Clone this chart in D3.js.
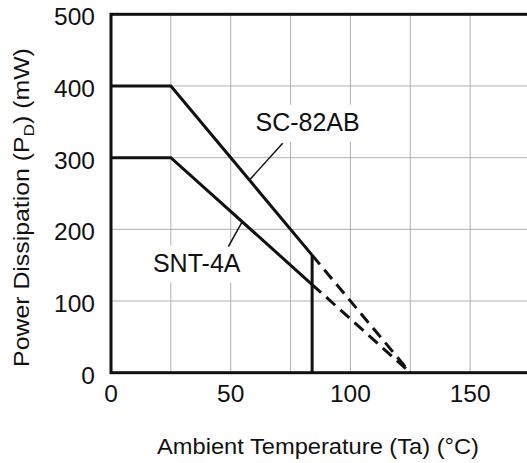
<!DOCTYPE html>
<html><head><meta charset="utf-8">
<script src="https://cdn.jsdelivr.net/npm/d3@7"></script>
<style>body{margin:0;background:#fff}svg{display:block}</style>
</head><body>
<svg id="c" width="527" height="463"></svg>
<script>
const xTicks = [0, 50, 100, 150];
const yTicks = [0, 100, 200, 300, 400, 500];
const xGrid = [25, 50, 75, 100, 125, 150, 175];
const yGrid = [100, 200, 300, 400];
const sc82Solid = [[0, 400], [25, 400], [84, 164]];
const sc82Dash = [[84, 164], [125, 0]];
const snt4Solid = [[0, 300], [25, 300], [84, 123]];
const snt4Dash = [[84, 123], [125, 0]];
const cutoff = [[84, 0], [84, 164]];
const labels = [
  {text: "SC-82AB", at: [82.1, 337.6], lead: [[71.7, 320], [58.1, 269.8]]},
  {text: "SNT-4A", at: [35.8, 140.9], lead: [[49, 175.8], [54.6, 209.3]]}
];

const svg = d3.select("#c");
const x = d3.scaleLinear().domain([0, 175]).range([111, 530]);
const y = d3.scaleLinear().domain([0, 500]).range([372.7, 14.3]);
const font = "Liberation Sans, Arial, sans-serif";

// grid
svg.append("g").selectAll("line").data(xGrid).join("line")
  .attr("x1", d => x(d)).attr("x2", d => x(d)).attr("y1", y(0)).attr("y2", y(500))
  .attr("stroke", "#b0b0b0").attr("stroke-width", 1);
svg.append("g").selectAll("line").data(yGrid).join("line")
  .attr("x1", x(0)).attr("x2", x(175)).attr("y1", d => y(d)).attr("y2", d => y(d))
  .attr("stroke", "#b0b0b0").attr("stroke-width", 1);

const lblG = svg.append("g");
const line = d3.line().x(d => x(d[0])).y(d => y(d[1]));

// border
svg.append("rect").attr("x", x(0)).attr("y", y(500)).attr("width", x(175) - x(0)).attr("height", y(0) - y(500))
  .attr("fill", "none").attr("stroke", "#111").attr("stroke-width", 3);

// curves
const curves = svg.append("g").attr("fill", "none").attr("stroke", "#111").attr("stroke-width", 3);
[sc82Solid, snt4Solid, cutoff].forEach(d => curves.append("path").attr("d", line(d)));
[sc82Dash, snt4Dash].forEach(d => curves.append("path").attr("d", line(d)).attr("stroke-dasharray", "12,7"));

// labels
labels.forEach(l => {
  const fs = 25;
  const t = lblG.append("text").attr("x", x(l.at[0])).attr("y", y(l.at[1]))
    .attr("text-anchor", "middle").attr("font-family", font).attr("font-size", fs).attr("fill", "#111").text(l.text);
  const bb = t.node().getBBox();
  const by = y(l.at[1]);
  lblG.insert("rect", "text").attr("x", bb.x - 4).attr("y", by - 26).attr("width", bb.width + 8).attr("height", 37).attr("fill", "#fff");
  svg.append("path").attr("d", line(l.lead)).attr("stroke", "#111").attr("stroke-width", 1.5).attr("fill", "none");
});

// x axis ticks
svg.append("g").selectAll("text").data(xTicks).join("text")
  .attr("x", d => x(d)).attr("y", 401.7).attr("text-anchor", "middle")
  .attr("font-family", font).attr("font-size", 24.5).attr("fill", "#111").text(d => d);
// y axis ticks
svg.append("g").selectAll("text").data(yTicks).join("text")
  .attr("x", 95).attr("y", d => y(d) + 11).attr("text-anchor", "end")
  .attr("font-family", font).attr("font-size", 24.5).attr("fill", "#111").text(d => d);

// axis titles
svg.append("text").attr("x", 318).attr("y", 454.3).attr("text-anchor", "middle")
  .attr("font-family", font).attr("font-size", 22).attr("fill", "#111")
  .attr("textLength", 322).attr("lengthAdjust", "spacingAndGlyphs")
  .text("Ambient Temperature (Ta) (°C)");
const yt = svg.append("text").attr("transform", "translate(28.5,207.5) rotate(-90)").attr("text-anchor", "middle")
  .attr("font-family", font).attr("font-size", 21.5).attr("fill", "#111");
yt.append("tspan").text("Power Dissipation (P");
yt.append("tspan").attr("font-size", 15).attr("dy", 5).text("D");
yt.append("tspan").attr("dy", -5).text(") (mW)");
// stretch y title to match reference length
const ytw = yt.node().getComputedTextLength();
yt.attr("transform", `translate(28.5,207.5) rotate(-90) scale(${319 / ytw},1)`);
</script>
</body></html>
